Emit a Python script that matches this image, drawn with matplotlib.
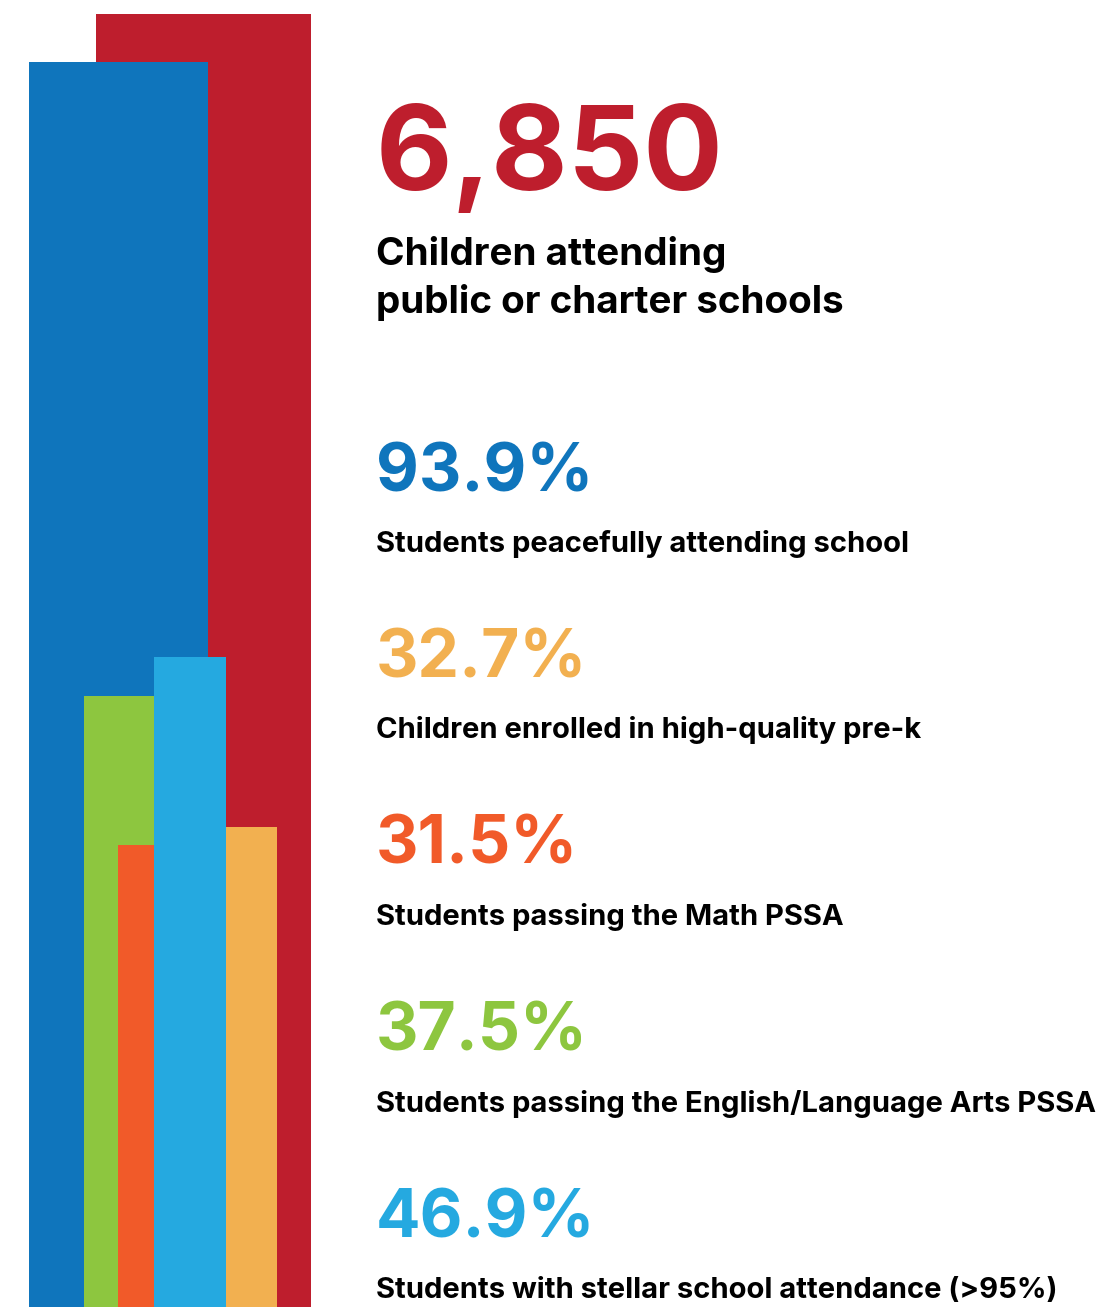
from matplotlib import pyplot as plt
from matplotlib.patches import Rectangle

# bar colours and heights (pixels from the bottom edge), back to front
bar_colors = ["#BE1E2D", "#0F75BC", "#8DC63F", "#F15A29", "#25A9E0", "#F2B050"]
bar_heights = [1293, 1245, 611, 462, 650, 480]
bar_lefts = [96, 29, 84, 118, 154, 226]
bar_widths = [215, 179, 70, 36, 72, 51]

big_number = "6,850"
big_label = ["Children attending", "public or charter schools"]

stat_values = ["93.9%", "32.7%", "31.5%", "37.5%", "46.9%"]
stat_labels = [
    "Students peacefully attending school",
    "Children enrolled in high-quality pre-k",
    "Students passing the Math PSSA",
    "Students passing the English/Language Arts PSSA",
    "Students with stellar school attendance (>95%)",
]
stat_colors = ["#0F75BC", "#F2B050", "#F15A29", "#8DC63F", "#25A9E0"]

W, H = 1107, 1307
FONT = "Inter"

fig = plt.figure(figsize=(W / 100, H / 100), dpi=100)
ax = fig.add_axes([0, 0, 1, 1])
ax.set_xlim(0, W)
ax.set_ylim(0, H)
ax.axis("off")

for left, width, height, color in zip(bar_lefts, bar_widths, bar_heights, bar_colors):
    ax.add_patch(Rectangle((left, 0), width, height, color=color, lw=0))

# headline block
x0 = 376
ax.text(x0, H - 190, big_number, color="#BE1E2D", fontsize=85, fontweight="bold",
        family=FONT, va="baseline", ha="left")
for j, line in enumerate(big_label):
    ax.text(x0, H - (265 + 48 * j), line, color="black", fontsize=27.8,
            fontweight="bold", family=FONT, va="baseline", ha="left")

# stat blocks
first_baseline = 491
step = 186.5
for i, (val, lab, col) in enumerate(zip(stat_values, stat_labels, stat_colors)):
    b = first_baseline + i * step
    ax.text(x0, H - b, val, color=col, fontsize=47.5, fontweight="bold",
            family=FONT, va="baseline", ha="left")
    ax.text(x0, H - (b + 61), lab, color="black", fontsize=21, fontweight="bold",
            family=FONT, va="baseline", ha="left")

fig.savefig("out.png", dpi=100)
